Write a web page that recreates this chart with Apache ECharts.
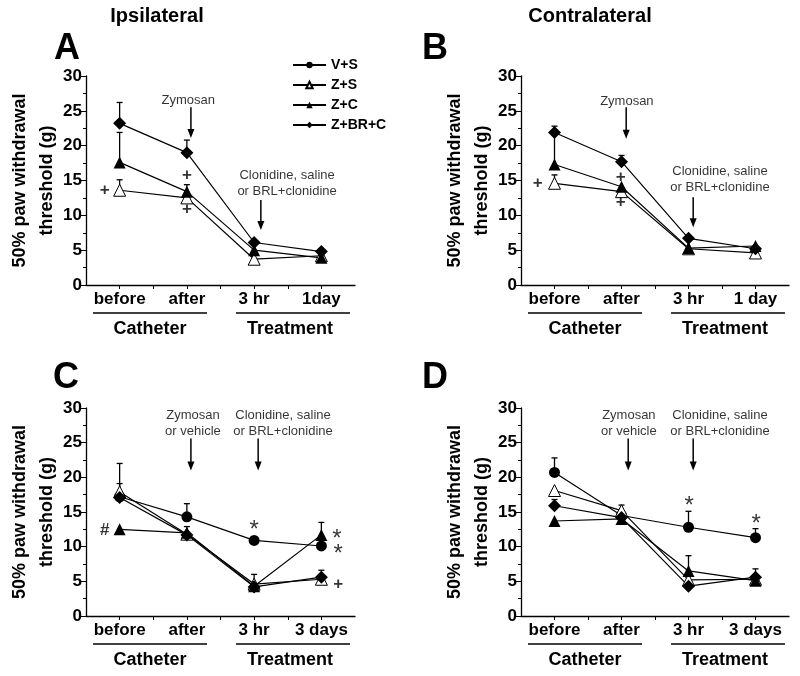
<!DOCTYPE html>
<html>
<head>
<meta charset="utf-8">
<script src="https://cdn.jsdelivr.net/npm/echarts@6/dist/echarts.min.js"></script>
<style>
html, body { margin: 0; background: #fff; }
#main { width: 800px; height: 676px; }
</style>
</head>
<body>
<div id="main"></div>
<script>
// time points (x positions sit in the middle of each unit slot)
const xPos = [0.5, 1.5, 2.5, 3.5];
const labelsA = ['before', 'after', '3 hr', '1day'];
const labelsB = ['before', 'after', '3 hr', '1 day'];
const labelsCD = ['before', 'after', '3 hr', '3 days'];
const groupNames = ['V+S', 'Z+S', 'Z+C', 'Z+BR+C'];

// A - ipsilateral
const zsA = [13.6, 12.5, 3.7, 4.2];
const zsA_err = [1.5, 0, 0, 0];
const zcA = [17.6, 13.4, 5.0, 3.9];
const zcA_err = [4.3, 1.0, 0, 0];
const zbrcA = [23.2, 19.0, 6.1, 4.8];
const zbrcA_err = [3.0, 1.8, 0, 0];

// B - contralateral
const zsB = [14.6, 13.4, 5.2, 4.6];
const zsB_err = [1.2, 0, 0, 0];
const zcB = [17.3, 14.1, 5.3, 5.6];
const zcB_err = [4.3, 0, 0, 0];
const zbrcB = [21.9, 17.7, 6.7, 5.2];
const zbrcB_err = [0.9, 0.9, 0, 0];

// C - ipsilateral, 3 days
const vsC = [17.2, 14.3, 10.9, 10.1];
const vsC_err = [0, 1.9, 0, 0];
const zsC = [17.9, 11.8, 4.6, 5.3];
const zsC_err = [1.2, 0, 1.4, 0];
const zcC = [12.5, 12.0, 4.3, 11.7];
const zcC_err = [0, 0, 0, 1.8];
const zbrcC = [17.1, 11.7, 4.2, 5.6];
const zbrcC_err = [4.9, 1.2, 0, 1.0];

// D - contralateral, 3 days
const vsD = [20.7, 14.5, 12.8, 11.3];
const vsD_err = [2.1, 0, 2.3, 1.3];
const zsD = [18.1, 15.2, 5.2, 5.3];
const zsD_err = [0, 0.8, 0, 0];
const zcD = [13.7, 14.0, 6.5, 5.1];
const zcD_err = [0, 0, 2.2, 0];
const zbrcD = [15.9, 14.2, 4.3, 5.6];
const zbrcD_err = [0.9, 0, 0, 1.2];

// annotations in data coords: [panel, x, y, text]
const marks = [
    [0, 0.28, 13.6, '+'], [0, 1.5, 15.8, '+'], [0, 1.5, 10.8, '+'],
    [1, 0.25, 14.6, '+'], [1, 1.49, 15.5, '+'], [1, 1.49, 11.8, '+'],
    [2, 0.28, 12.4, '#'], [2, 2.5, 12.4, '*'], [2, 3.73, 11.1, '*'], [2, 3.75, 8.9, '*'], [2, 3.75, 4.5, '+'],
    [3, 2.51, 15.8, '*'], [3, 3.51, 13.2, '*']
];
const notes = [
    [0, 1.52, 26.5, 'Zymosan'], [0, 2.99, 14.6, 'Clonidine, saline\nor BRL+clonidine'],
    [1, 1.58, 26.4, 'Zymosan'], [1, 2.97, 15.2, 'Clonidine, saline\nor BRL+clonidine'],
    [2, 1.59, 27.8, 'Zymosan\nor vehicle'], [2, 2.93, 27.8, 'Clonidine, saline\nor BRL+clonidine'],
    [3, 1.61, 27.8, 'Zymosan\nor vehicle'], [3, 2.97, 27.8, 'Clonidine, saline\nor BRL+clonidine']
];
// arrows: [panel, x, top, bottom]
const arrows = [
    [0, 1.56, 25.5, 21.1], [0, 2.60, 12.2, 7.9],
    [1, 1.57, 25.5, 21.0], [1, 2.57, 12.6, 8.3],
    [2, 1.56, 25.6, 21.0], [2, 2.56, 25.6, 21.0],
    [3, 1.60, 25.6, 21.0], [3, 2.57, 25.6, 21.0]
];

const font = 'Liberation Sans, Arial, sans-serif';
const chart = echarts.init(document.getElementById('main'));

const grids = [
    { left: 86, top: 76, width: 269, height: 209 },
    { left: 521, top: 76, width: 268, height: 209 },
    { left: 86, top: 408, width: 269, height: 208 },
    { left: 521, top: 408, width: 268, height: 208 }
];
const panelLabels = [labelsA, labelsB, labelsCD, labelsCD];

const styles = {
    'V+S': { symbol: 'circle', symbolSize: 11, itemStyle: { color: '#000' } },
    'Z+S': { symbol: 'triangle', symbolSize: 12, itemStyle: { color: '#fff', borderColor: '#000', borderWidth: 1 } },
    'Z+C': { symbol: 'triangle', symbolSize: 12, itemStyle: { color: '#000' } },
    'Z+BR+C': { symbol: 'diamond', symbolSize: 13, itemStyle: { color: '#000' } }
};

const panels = [
    [['Z+S', zsA, zsA_err], ['Z+C', zcA, zcA_err], ['Z+BR+C', zbrcA, zbrcA_err]],
    [['Z+S', zsB, zsB_err], ['Z+C', zcB, zcB_err], ['Z+BR+C', zbrcB, zbrcB_err]],
    [['V+S', vsC, vsC_err], ['Z+S', zsC, zsC_err], ['Z+C', zcC, zcC_err], ['Z+BR+C', zbrcC, zbrcC_err]],
    [['V+S', vsD, vsD_err], ['Z+S', zsD, zsD_err], ['Z+C', zcD, zcD_err], ['Z+BR+C', zbrcD, zbrcD_err]]
];

function errBar(params, api) {
    const p0 = api.coord([api.value(0), api.value(1)]);
    const p1 = api.coord([api.value(0), api.value(2)]);
    const st = { stroke: '#000', lineWidth: 1.3 };
    return {
        type: 'group', children: [
            { type: 'line', shape: { x1: p0[0], y1: p0[1], x2: p1[0], y2: p1[1] }, style: st },
            { type: 'line', shape: { x1: p1[0] - 3, y1: p1[1], x2: p1[0] + 3, y2: p1[1] }, style: st }
        ]
    };
}

function arrow(params, api) {
    const a = api.coord([api.value(0), api.value(1)]);
    const b = api.coord([api.value(0), api.value(2)]);
    return {
        type: 'group', children: [
            { type: 'line', shape: { x1: a[0], y1: a[1], x2: b[0], y2: b[1] - 8 }, style: { stroke: '#000', lineWidth: 1.5 } },
            { type: 'polygon', shape: { points: [[b[0] - 3.5, b[1] - 9], [b[0] + 3.5, b[1] - 9], [b[0], b[1]]] }, style: { fill: '#000' } }
        ]
    };
}

const series = [];
panels.forEach((list, g) => {
    list.forEach(([name, vals, errs]) => {
        series.push({
            type: 'custom', name: name + ' error', xAxisIndex: g, yAxisIndex: g, z: 1, silent: true,
            renderItem: errBar,
            data: vals.map((v, i) => [xPos[i], v, v + errs[i]]).filter((d, i) => errs[i] > 0)
        });
    });
    list.forEach(([name, vals]) => {
        series.push(Object.assign({
            type: 'line', name: name, xAxisIndex: g, yAxisIndex: g, z: 3,
            lineStyle: { color: '#000', width: 1.2 },
            emphasis: { disabled: true },
            data: vals.map((v, i) => [xPos[i], v])
        }, styles[name]));
    });
    series.push({
        type: 'custom', xAxisIndex: g, yAxisIndex: g, z: 2, silent: true,
        renderItem: arrow,
        data: arrows.filter(a => a[0] === g).map(a => [a[1], a[2], a[3]])
    });
    series.push({
        type: 'scatter', xAxisIndex: g, yAxisIndex: g, symbolSize: 0, z: 4, silent: true,
        data: marks.filter(m => m[0] === g).map(m => ({
            value: [m[1], m[2]], text: m[3],
            label: m[3] === '*' ? { fontSize: 24, fontWeight: 'normal' } : {}
        })),
        label: {
            show: true, position: 'inside', color: '#000', fontFamily: font,
            fontWeight: 'bold', fontSize: 17, formatter: p => p.data.text
        }
    });
    series.push({
        type: 'scatter', xAxisIndex: g, yAxisIndex: g, symbolSize: 0, z: 4, silent: true,
        data: notes.filter(m => m[0] === g).map(m => ({ value: [m[1], m[2]], text: m[3] })),
        label: {
            show: true, position: 'inside', color: '#000', fontFamily: font,
            fontSize: 13, lineHeight: 16, align: 'center', formatter: p => p.data.text
        }
    });
});

const xAxis = grids.map((gr, g) => ({
    type: 'value', gridIndex: g, min: 0, max: 4,
    splitLine: { show: false },
    axisLine: { lineStyle: { color: '#000', width: 1.3 } },
    axisTick: { customValues: [0.5, 1, 1.5, 2, 2.5, 3, 3.5], length: 4, lineStyle: { color: '#000' } },
    axisLabel: {
        customValues: xPos, color: '#000', fontFamily: font, fontWeight: 'bold', fontSize: 17, margin: 6,
        formatter: v => panelLabels[g][Math.round(v - 0.5)]
    }
}));
const yAxis = grids.map((gr, g) => ({
    type: 'value', gridIndex: g, min: 0, max: 30, interval: 5,
    splitLine: { show: false },
    axisLine: { show: true, lineStyle: { color: '#000', width: 1.3 } },
    axisTick: { show: true, length: 5, lineStyle: { color: '#000' } },
    minorTick: { show: true, splitNumber: 2, length: 3, lineStyle: { color: '#000' } },
    axisLabel: { color: '#000', fontFamily: font, fontWeight: 'bold', fontSize: 17, margin: 4 }
}));

// free text: titles, panel letters, axis titles, group bars
const graphic = [];
function txt(x, y, s, size, weight, extra) {
    graphic.push(Object.assign({
        type: 'text', x: x, y: y,
        style: { text: s, fill: '#000', font: weight + ' ' + size + 'px ' + font, align: 'center', verticalAlign: 'middle' }
    }, extra || {}));
}
txt(157, 16, 'Ipsilateral', 20, 'bold');
txt(590, 16, 'Contralateral', 20, 'bold');
[[67, 49, 'A'], [435, 49, 'B'], [66, 378, 'C'], [435, 378, 'D']].forEach(p => txt(p[0], p[1], p[2], 36, 'bold'));
grids.forEach(gr => {
    const cy = gr.top + gr.height / 2;
    txt(gr.left - 66, cy, '50% paw withdrawal', 18, 'bold', { rotation: Math.PI / 2 });
    txt(gr.left - 39, cy, 'threshold (g)', 18, 'bold', { rotation: Math.PI / 2 });
    const by = gr.top + gr.height + 28;
    graphic.push({ type: 'line', shape: { x1: gr.left + 7, y1: by, x2: gr.left + 121, y2: by }, style: { stroke: '#000', lineWidth: 1.5 } });
    graphic.push({ type: 'line', shape: { x1: gr.left + 150, y1: by, x2: gr.left + 264, y2: by }, style: { stroke: '#000', lineWidth: 1.5 } });
    txt(gr.left + 64, by + 16, 'Catheter', 18, 'bold');
    txt(gr.left + 204, by + 16, 'Treatment', 18, 'bold');
});

chart.setOption({
    animation: false,
    backgroundColor: '#fff',
    grid: grids,
    xAxis: xAxis,
    yAxis: yAxis,
    legend: {
        data: groupNames, orient: 'vertical', left: 292, top: 58, padding: 0,
        itemWidth: 33, itemHeight: 8, itemGap: 6, selectedMode: false,
        textStyle: { color: '#000', fontFamily: font, fontWeight: 'bold', fontSize: 14 }
    },
    graphic: graphic,
    series: series
});
</script>
</body>
</html>
